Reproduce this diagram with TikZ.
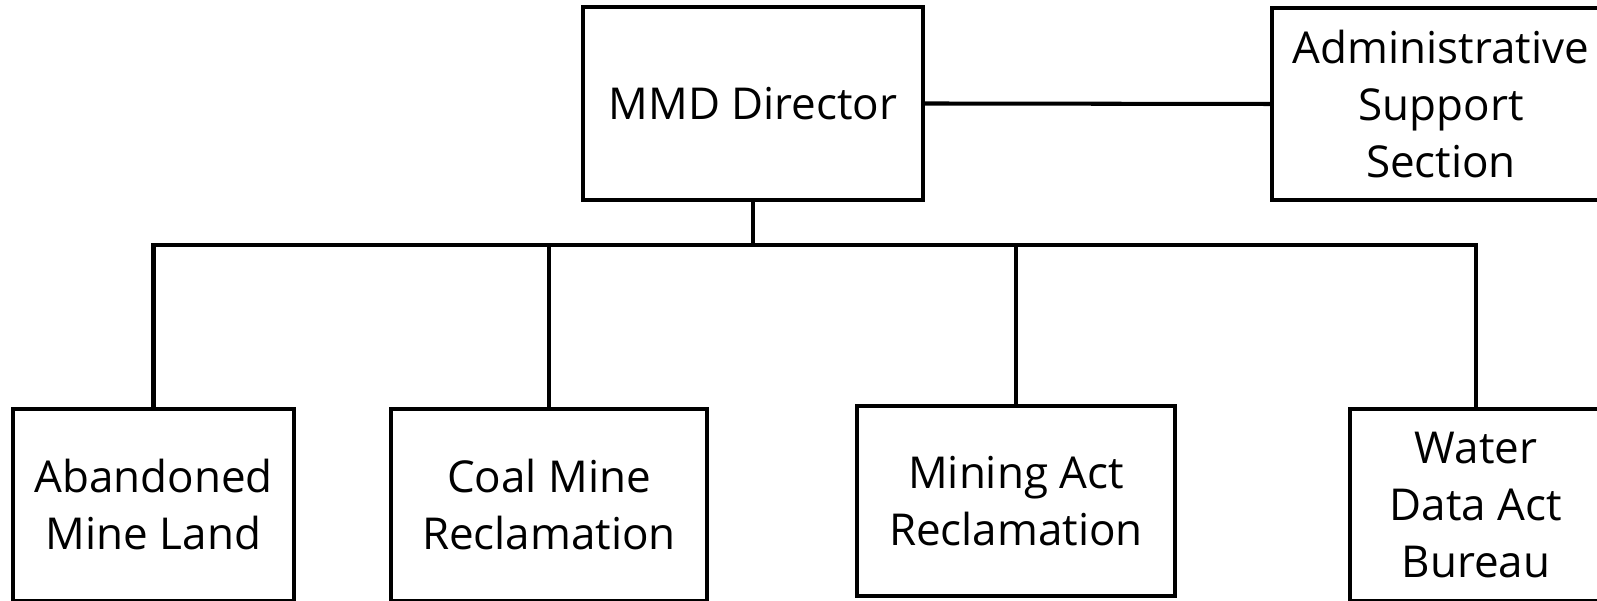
\documentclass[tikz,border=0pt]{standalone}
\usepackage{fontspec}
\setmainfont{Open Sans}
\usepackage{tikz}
\usetikzlibrary{calc}
\tikzset{
  unit/.style={draw=black, line width=1.15pt, align=center, inner sep=0pt,
    font=\fontsize{12.5pt}{16.2pt}\selectfont},
  link/.style={draw=black, line width=1.15pt},
}

\begin{document}
\begin{tikzpicture}[x=0.01cm, y=-0.01cm]
  \useasboundingbox (0,0) rectangle (1597,601);
  \clip (0,0) rectangle (1597,601);

  % top row
  \node[unit, minimum width=3.40cm, minimum height=1.93cm] (dir) at (753,103.5) {MMD Director};
  \node[unit, minimum width=3.38cm, minimum height=1.92cm] (adm) at (1441,104) {Administrative\\Support\\Section};

  % bottom row
  \node[unit, minimum width=2.81cm, minimum height=1.91cm] (aml) at (153.5,505) {Abandoned\\Mine Land};
  \node[unit, minimum width=3.16cm, minimum height=1.91cm] (cmr) at (549,505) {Coal Mine\\Reclamation};
  \node[unit, minimum width=3.18cm, minimum height=1.90cm] (mar) at (1016,501) {Mining Act\\Reclamation};
  \node[unit, minimum width=2.52cm, minimum height=1.91cm] (wda) at (1476,505) {Water\\Data Act\\Bureau};

  \coordinate (bus) at (753,245);

  \draw[link] (dir.east) -- (adm.west);
  \draw[link] (dir.south) -- (bus);
  \draw[link] (aml.north) |- (bus) -| (wda.north);
  \draw[link] (cmr.north) -- (cmr.north |- bus);
  \draw[link] (mar.north) -- (mar.north |- bus);
\end{tikzpicture}
\end{document}
